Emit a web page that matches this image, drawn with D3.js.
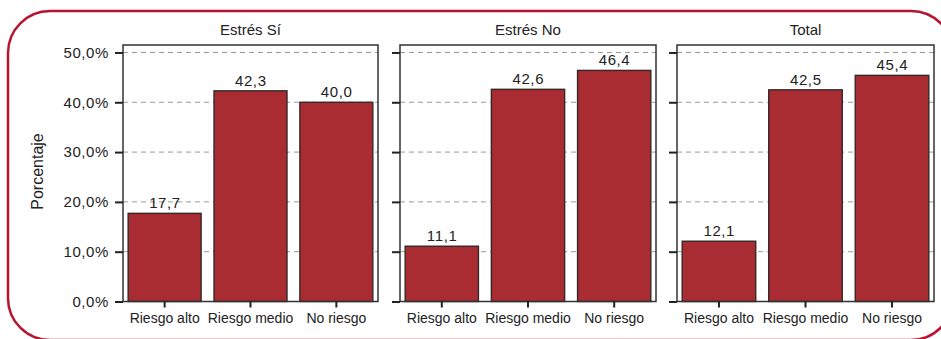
<!DOCTYPE html>
<html><head><meta charset="utf-8">
<script src="https://cdn.jsdelivr.net/npm/d3@7"></script>
<style>body{margin:0;background:#fff}svg{display:block}text{font-family:"Liberation Sans",Arial,sans-serif;fill:#222}</style>
</head><body><svg id="c" width="941" height="339"></svg>
<script>
const categories = ["Riesgo alto", "Riesgo medio", "No riesgo"];
const panels = ["Estrés Sí", "Estrés No", "Total"];
const valuesSi = [17.7, 42.3, 40.0];
const valuesNo = [11.1, 42.6, 46.4];
const valuesTotal = [12.1, 42.5, 45.4];
const yTicks = [0, 10, 20, 30, 40, 50];
const series = [valuesSi, valuesNo, valuesTotal];

const svg = d3.select("#c");
const fmt = v => d3.format(".1f")(v).replace(".", ",");

svg.append("rect").attr("x", 8).attr("y", 11).attr("width", 945).attr("height", 329)
  .attr("rx", 42).attr("fill", "none").attr("stroke", "#b8142f").attr("stroke-width", 2.5);

const panelX = [[123, 378], [400, 656], [677, 934]];
const y = d3.scaleLinear().domain([0, 51.5]).range([301.5, 45]);

panelX.forEach((px, i) => {
  const g = svg.append("g");
  const x = d3.scaleBand().domain(categories).range(px).paddingInner(0.15).paddingOuter(0.06);
  g.selectAll(".grid").data(yTicks.filter(t => t > 0)).join("line")
    .attr("x1", px[0]).attr("x2", px[1]).attr("y1", d => y(d)).attr("y2", d => y(d))
    .attr("stroke", "#9a9a9a").attr("stroke-width", 1).attr("stroke-dasharray", "5,4");
  g.selectAll(".bar").data(series[i]).join("rect")
    .attr("x", (d, j) => x(categories[j])).attr("width", x.bandwidth())
    .attr("y", d => y(d)).attr("height", d => y(0) - y(d))
    .attr("fill", "#a82c32").attr("stroke", "#352828").attr("stroke-width", 1.4);
  g.selectAll(".val").data(series[i]).join("text")
    .attr("x", (d, j) => x(categories[j]) + x.bandwidth() / 2 + 0.3).attr("y", d => y(d) - 5)
    .attr("text-anchor", "middle").attr("font-size", 15).attr("letter-spacing", "0.6px").text(d => fmt(d));
  g.append("rect").attr("x", px[0]).attr("y", y.range()[1]).attr("width", px[1] - px[0])
    .attr("height", y(0) - y.range()[1]).attr("fill", "none").attr("stroke", "#333").attr("stroke-width", 1.5);
  const ya = d3.axisLeft(y).tickValues(yTicks).tickSize(8).tickPadding(6)
    .tickFormat(i === 0 ? (d => fmt(d) + "%") : "");
  const yg = g.append("g").attr("transform", `translate(${px[0]},0)`).call(ya);
  yg.select(".domain").remove();
  yg.selectAll(".tick line").attr("stroke", "#222").attr("stroke-width", 2);
  yg.selectAll(".tick text").attr("font-size", 15).attr("letter-spacing", "0.6px").attr("font-family", null).attr("fill", "#222");
  const xa = d3.axisBottom(x).tickSize(6).tickPadding(6);
  const xg = g.append("g").attr("transform", `translate(0,${y(0)})`).call(xa);
  xg.select(".domain").remove();
  xg.selectAll(".tick line").attr("stroke", "#222").attr("stroke-width", 2);
  xg.selectAll(".tick text").attr("font-size", 14).attr("font-family", null).attr("fill", "#222");
  g.append("text").attr("x", (px[0] + px[1]) / 2).attr("y", 35).attr("text-anchor", "middle")
    .attr("font-size", 15).text(panels[i]);
});

svg.append("text").attr("transform", "translate(43,171.5) rotate(-90)").attr("text-anchor", "middle")
  .attr("font-size", 16).text("Porcentaje");
</script></body></html>
